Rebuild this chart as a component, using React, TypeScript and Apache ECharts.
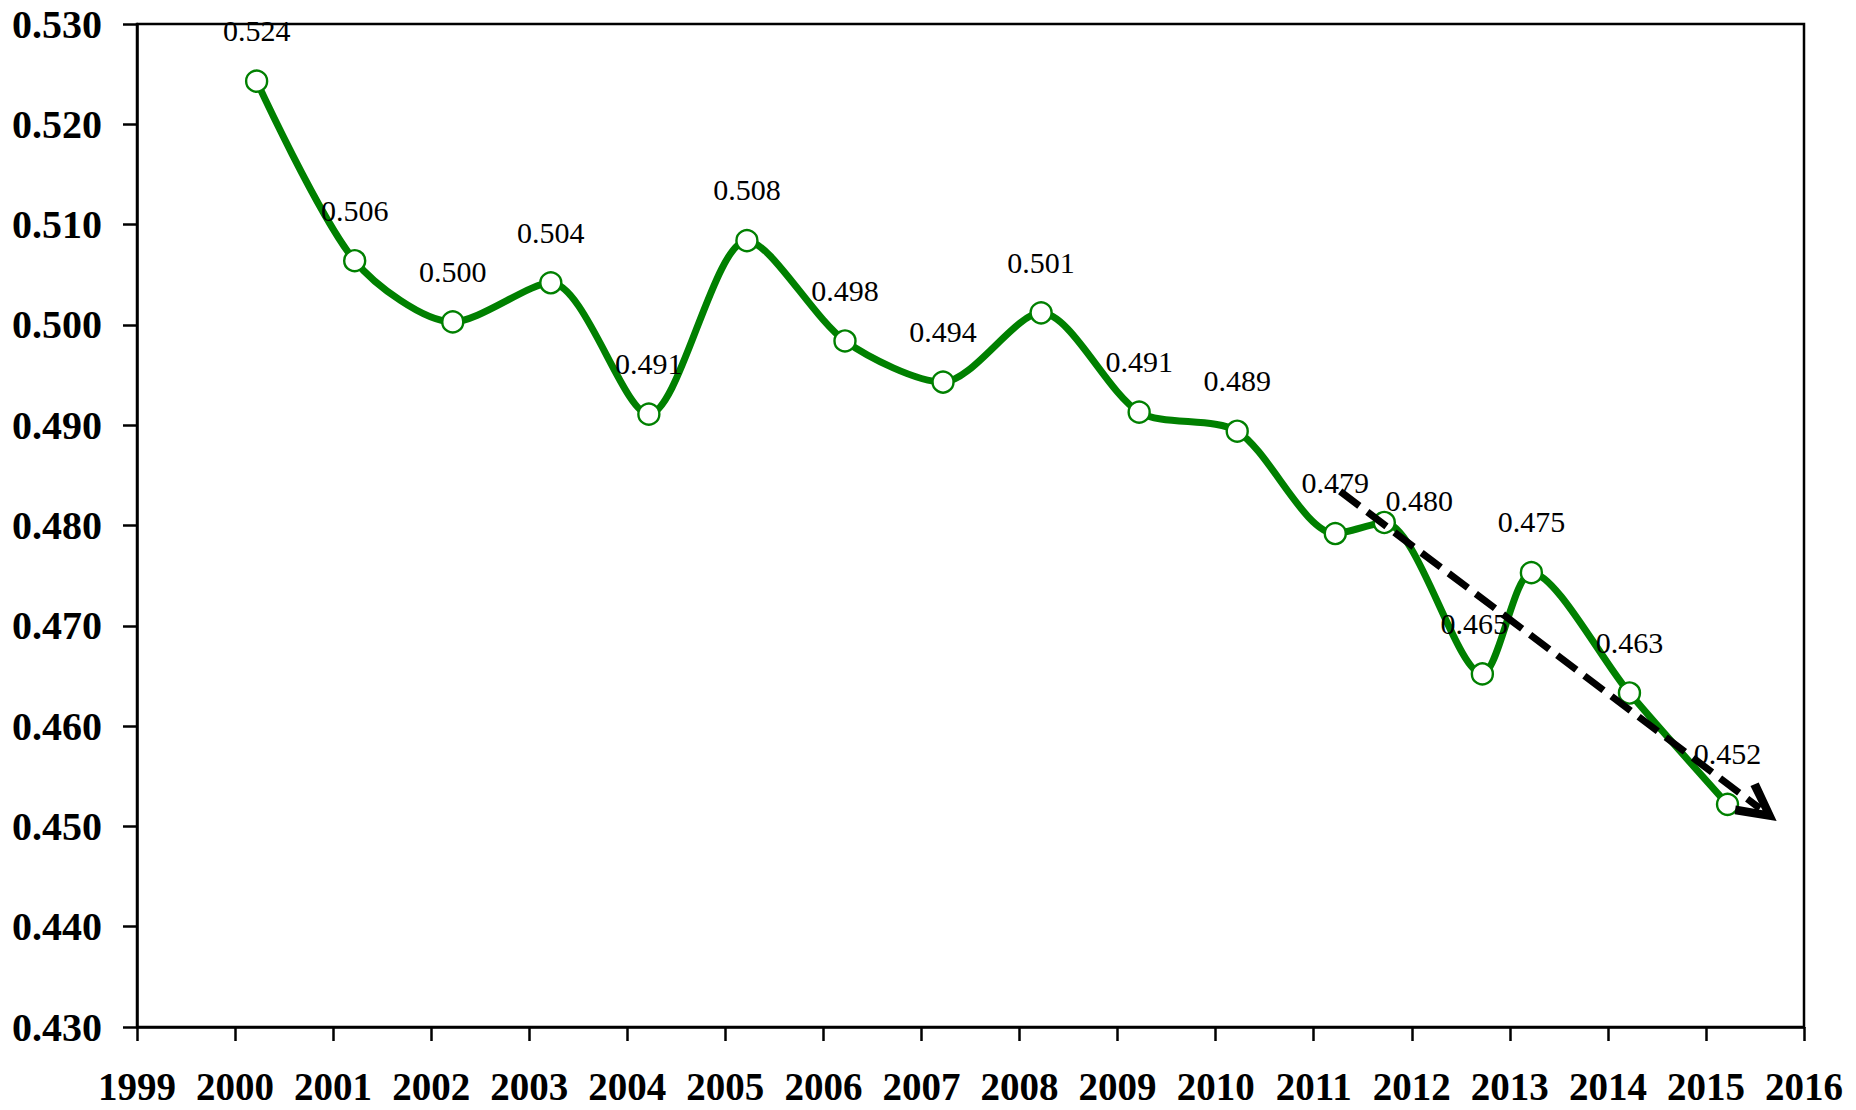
import React, { useEffect, useRef } from "react";
import * as echarts from "echarts";

// ---- data ----
const xPositions = [
  2000.22, 2001.22, 2002.22, 2003.22, 2004.22, 2005.22, 2006.22, 2007.22, 2008.22,
  2009.22, 2010.22, 2011.22, 2011.72, 2012.72, 2013.22, 2014.22, 2015.22,
];
const values = [
  0.5243, 0.5064, 0.5003, 0.5042, 0.4911, 0.5084, 0.4984, 0.4943, 0.5012,
  0.4913, 0.4894, 0.4792, 0.4803, 0.4652, 0.4753, 0.4633, 0.4522,
];
const xTickMin = 1999;
const xTickMax = 2016;
const yTickMin = 0.43;
const yTickMax = 0.53;
const trendStart = [2011.27, 0.4834];
const trendEnd = [2015.55, 0.4518];

const FONT = "'Liberation Serif', 'Times New Roman', serif";
const GREEN = "#008000";

export default function App() {
  const ref = useRef<HTMLDivElement>(null);

  useEffect(() => {
    if (!ref.current) return;
    const chart = echarts.init(ref.current, undefined, { renderer: "svg" });

    const seriesData = xPositions.map((x, i) => {
      const item: any = { value: [x, values[i]] };
      if (i === 12) item.label = { offset: [35, 29] };
      if (i === 13) item.label = { offset: [-8, 0] };
      return item;
    });

    chart.setOption({
      animation: false,
      backgroundColor: "#ffffff",
      grid: {
        left: 137,
        top: 24,
        right: 52,
        bottom: 83,
        show: true,
        borderColor: "#000",
        borderWidth: 2.5,
        backgroundColor: "transparent",
      },
      xAxis: {
        type: "value",
        min: xTickMin,
        max: xTickMax,
        interval: 1,
        splitLine: { show: false },
        axisLine: { show: true, lineStyle: { color: "#000", width: 2.5 } },
        axisTick: { show: true, inside: false, length: 14, lineStyle: { color: "#000", width: 2.5 } },
        axisLabel: {
          margin: 40,
          color: "#000",
          fontFamily: FONT,
          fontWeight: "bold",
          fontSize: 39,
          formatter: (v: number) => String(Math.round(v)),
        },
      },
      yAxis: {
        type: "value",
        min: yTickMin,
        max: yTickMax,
        interval: 0.01,
        splitLine: { show: false },
        axisLine: { show: true, lineStyle: { color: "#000", width: 2.5 } },
        axisTick: { show: true, inside: false, length: 14, lineStyle: { color: "#000", width: 2.5 } },
        axisLabel: {
          margin: 35,
          color: "#000",
          fontFamily: FONT,
          fontWeight: "bold",
          fontSize: 40,
          formatter: (v: number) => v.toFixed(3),
        },
      },
      series: [
        {
          type: "line",
          data: seriesData,
          smooth: 0.28,
          symbol: "circle",
          symbolSize: 21,
          z: 2,
          lineStyle: { color: GREEN, width: 7 },
          itemStyle: { color: "#ffffff", borderColor: GREEN, borderWidth: 2.4 },
          label: {
            show: true,
            position: "top",
            distance: 24,
            color: "#000",
            fontFamily: FONT,
            fontSize: 30,
            formatter: (p: any) => p.value[1].toFixed(3),
          },
          emphasis: { disabled: true },
        },
        {
          type: "line",
          data: [],
          z: 5,
          silent: true,
          markLine: {
            silent: true,
            animation: false,
            symbol: ["none", "path://M20,0 L38,34 L31,38 L20,16 L9,38 L2,34 Z"],
            symbolSize: [40, 42],
            label: { show: false },
            emphasis: { disabled: true },
            lineStyle: { color: "#000", width: 7, type: [24, 10], cap: "butt" },
            data: [[{ coord: trendStart }, { coord: trendEnd }]],
          },
        },
      ],
    });

    return () => chart.dispose();
  }, []);

  return (
    <div
      ref={ref}
      style={{ position: "absolute", left: 0, top: 0, width: 1856, height: 1110, background: "#fff" }}
    />
  );
}
